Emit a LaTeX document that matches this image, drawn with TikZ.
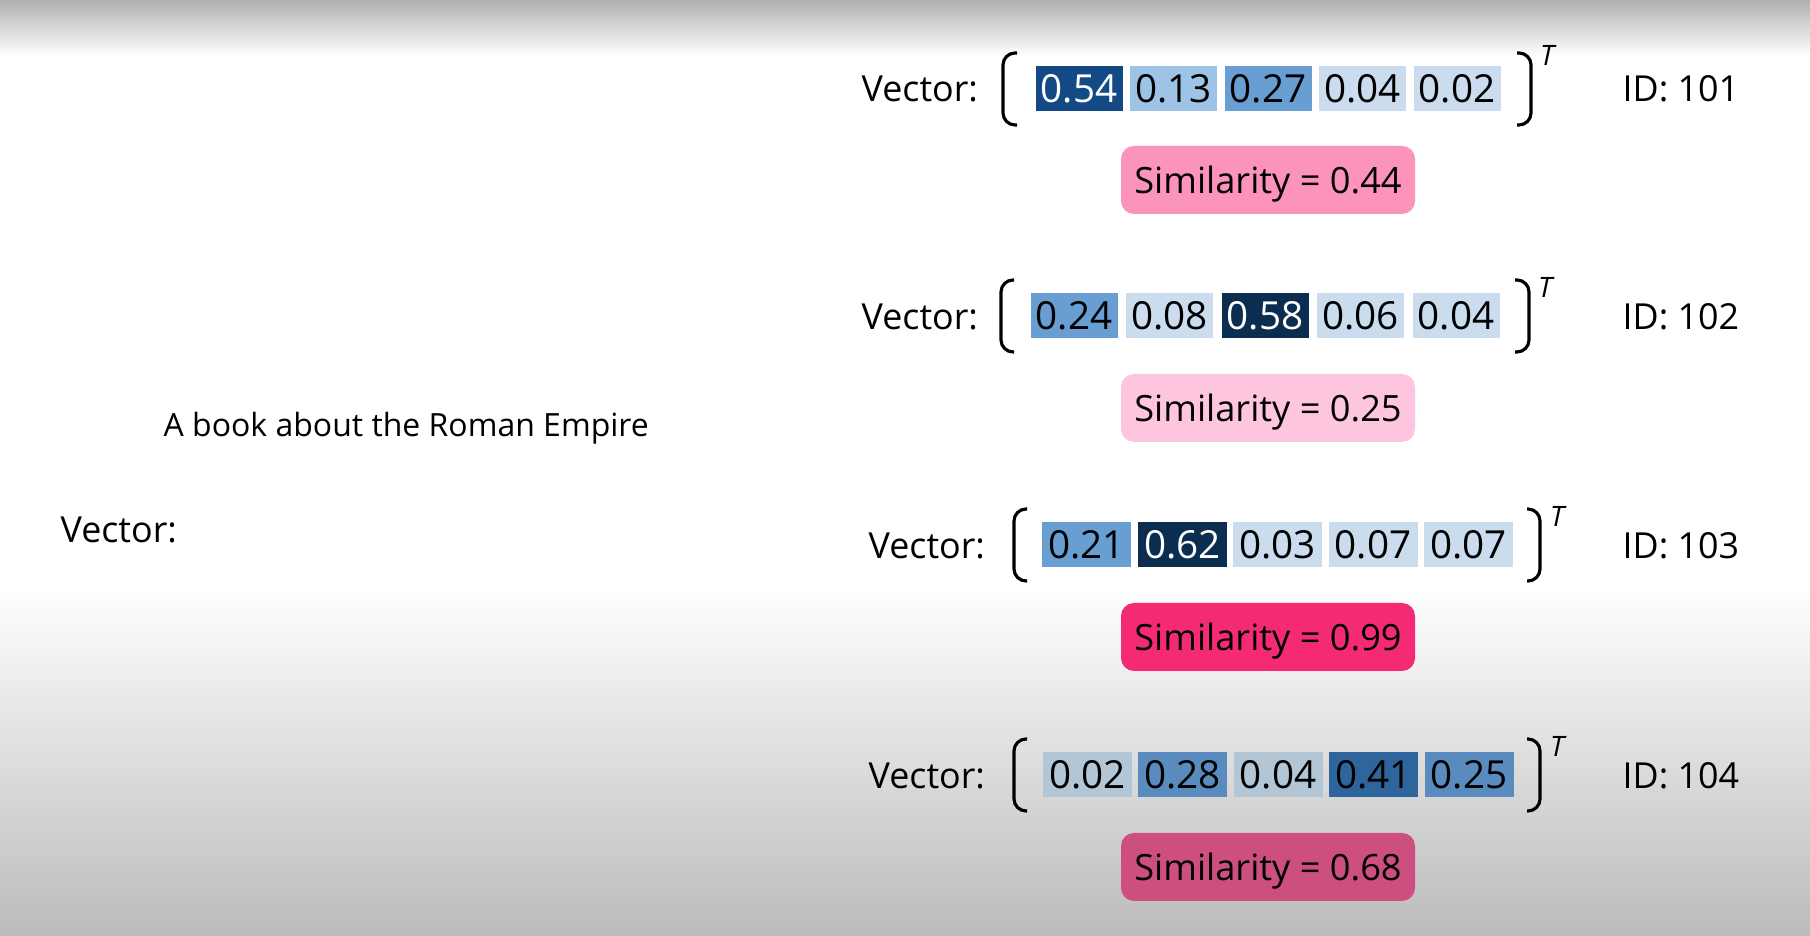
\documentclass[tikz,border=0pt]{standalone}
\usepackage{fontspec}
\setmainfont{Open Sans}

\definecolor{bgtop}{HTML}{B0B0B0}
\definecolor{bgbot}{HTML}{BBBBBB}
\definecolor{bluedark}{HTML}{134A85}
\definecolor{bluenavy}{HTML}{0B2D4F}
\definecolor{bluemid}{HTML}{689ED2}
\definecolor{bluelight}{HTML}{9DC3E6}
\definecolor{bluepale}{HTML}{CADCED}
\definecolor{greypale}{HTML}{B3C6D6}
\definecolor{steelmid}{HTML}{5A8BBF}
\definecolor{steeldark}{HTML}{2E659C}
\definecolor{simmid}{HTML}{FC93BA}
\definecolor{simlow}{HTML}{FDC6DE}
\definecolor{simtop}{HTML}{F42A74}
\definecolor{simhigh}{HTML}{CC4F80}

\tikzset{
  lbl/.style={inner sep=0, anchor=base west, font=\fontsize{10.2}{12}\selectfont},
  cell/.style={fill=#1, minimum width=0.87cm, minimum height=0.45cm, inner sep=0, font=\fontsize{11}{13}\selectfont},
  cellw/.style={cell=#1, minimum width=0.89cm},
  simbox/.style={fill=#1, rounded corners=0.13cm, minimum width=2.94cm, minimum height=0.68cm, text depth=0pt, inner sep=0, font=\fontsize{10.3}{12}\selectfont},
  brk/.style={line width=0.9pt, rounded corners=0.12cm},
  tsup/.style={inner sep=0, font=\fontsize{8}{10}\selectfont\itshape},
}

\begin{document}
\begin{tikzpicture}

\useasboundingbox (0, 0) rectangle (18.10, 9.36);
\fill[white] (0, 0) rectangle (18.10, 9.36);
\shade[top color=bgtop, bottom color=white] (0, 8.80) rectangle (18.10, 9.36);
\shade[top color=white, bottom color=bgbot] (0, 0) rectangle (18.10, 3.50);

% query
\node[lbl, font=\fontsize{9.1}{11}\selectfont] (query) at (1.63, 4.99) {A book about the Roman Empire};
\node[lbl] (qvec) at (0.60, 3.93) {Vector:};

% ID 101
\node[lbl] (vec1) at (8.61, 8.34) {Vector:};
\draw[brk] (10.17, 8.83) -- (10.03, 8.83) -- (10.03, 8.11) -- (10.17, 8.11);
\node[cell=bluedark, text=white] (c11) at (10.79, 8.475) {0.54};
\node[cell=bluelight] (c12) at (11.735, 8.475) {0.13};
\node[cell=bluemid] (c13) at (12.68, 8.475) {0.27};
\node[cell=bluepale] (c14) at (13.625, 8.475) {0.04};
\node[cell=bluepale] (c15) at (14.57, 8.475) {0.02};
\draw[brk] (15.17, 8.83) -- (15.31, 8.83) -- (15.31, 8.11) -- (15.17, 8.11);
\node[tsup] (t1) at (15.47, 8.81) {T};
\node[lbl] (id1) at (16.22, 8.34) {ID: 101};
\node[simbox=simmid] (sim1) at (12.68, 7.56) {Similarity = 0.44};

% ID 102
\node[lbl] (vec2) at (8.61, 6.065) {Vector:};
\draw[brk] (10.14, 6.56) -- (10.01, 6.56) -- (10.01, 5.84) -- (10.14, 5.84);
\node[cell=bluemid] (c21) at (10.74, 6.20) {0.24};
\node[cell=bluepale] (c22) at (11.695, 6.20) {0.08};
\node[cell=bluenavy, text=white] (c23) at (12.65, 6.20) {0.58};
\node[cell=bluepale] (c24) at (13.605, 6.20) {0.06};
\node[cell=bluepale] (c25) at (14.56, 6.20) {0.04};
\draw[brk] (15.15, 6.56) -- (15.29, 6.56) -- (15.29, 5.84) -- (15.15, 5.84);
\node[tsup] (t2) at (15.45, 6.49) {T};
\node[lbl] (id2) at (16.22, 6.065) {ID: 102};
\node[simbox=simlow] (sim2) at (12.68, 5.28) {Similarity = 0.25};

% ID 103
\node[lbl] (vec3) at (8.68, 3.775) {Vector:};
\draw[brk] (10.27, 4.27) -- (10.14, 4.27) -- (10.14, 3.55) -- (10.27, 3.55);
\node[cellw=bluemid] (c31) at (10.865, 3.91) {0.21};
\node[cellw=bluenavy, text=white] (c32) at (11.825, 3.91) {0.62};
\node[cellw=bluepale] (c33) at (12.775, 3.91) {0.03};
\node[cellw=bluepale] (c34) at (13.73, 3.91) {0.07};
\node[cellw=bluepale] (c35) at (14.685, 3.91) {0.07};
\draw[brk] (15.27, 4.27) -- (15.40, 4.27) -- (15.40, 3.55) -- (15.27, 3.55);
\node[tsup] (t3) at (15.57, 4.20) {T};
\node[lbl] (id3) at (16.22, 3.775) {ID: 103};
\node[simbox=simtop] (sim3) at (12.68, 2.99) {Similarity = 0.99};

% ID 104
\node[lbl] (vec4) at (8.68, 1.475) {Vector:};
\draw[brk] (10.27, 1.97) -- (10.14, 1.97) -- (10.14, 1.25) -- (10.27, 1.25);
\node[cellw=greypale] (c41) at (10.875, 1.61) {0.02};
\node[cellw=steelmid] (c42) at (11.825, 1.61) {0.28};
\node[cellw=greypale] (c43) at (12.78, 1.61) {0.04};
\node[cellw=steeldark] (c44) at (13.735, 1.61) {0.41};
\node[cellw=steelmid] (c45) at (14.69, 1.61) {0.25};
\draw[brk] (15.27, 1.97) -- (15.40, 1.97) -- (15.40, 1.25) -- (15.27, 1.25);
\node[tsup] (t4) at (15.57, 1.90) {T};
\node[lbl] (id4) at (16.22, 1.475) {ID: 104};
\node[simbox=simhigh] (sim4) at (12.68, 0.69) {Similarity = 0.68};

\end{tikzpicture}
\end{document}
